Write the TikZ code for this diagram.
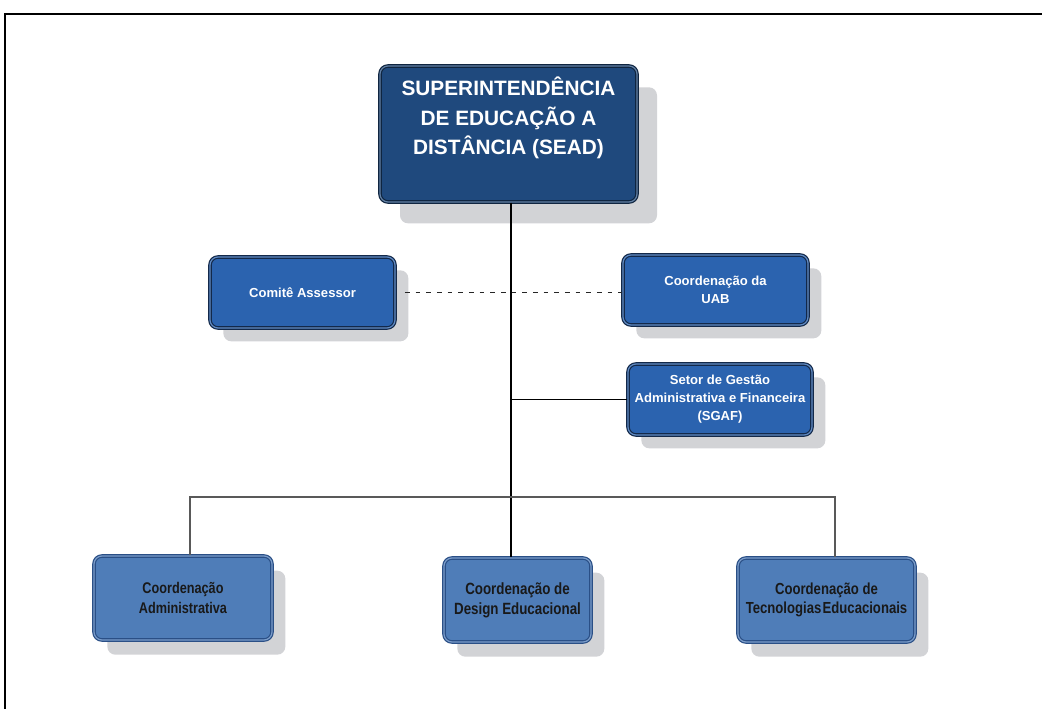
\documentclass[tikz,border=0pt]{standalone}
\usepackage{fontspec}
\setmainfont{Liberation Sans}
\newfontfamily\narrowsans[FakeStretch=0.82]{Liberation Sans}
\usetikzlibrary{shadows}

\definecolor{navyfill}{HTML}{1F497D}
\definecolor{navyedge}{HTML}{0F2540}
\definecolor{midfill}{HTML}{2B63AF}
\definecolor{midedge}{HTML}{13294A}
\definecolor{lightfill}{HTML}{4F7DB8}
\definecolor{lightedge}{HTML}{2A4F86}
\definecolor{shadowgray}{HTML}{D2D3D6}

\tikzset{
  orgbox/.style={rectangle, rounded corners=6pt, inner sep=0pt, align=center,
    font=\bfseries, line width=0.9pt, double distance=0.9pt},
  topbox/.style={orgbox, fill=navyfill, draw=navyedge, double=navyfill!70!white,
    general shadow={fill=shadowgray, shadow xshift=15pt, shadow yshift=-16pt}},
  midbox/.style={orgbox, fill=midfill, draw=midedge, double=midfill!75!white,
    text=white, font=\bfseries\fontsize{9.8}{13.5}\selectfont,
    general shadow={fill=shadowgray, shadow xshift=10pt, shadow yshift=-10pt}},
  lowbox/.style={orgbox, fill=lightfill, draw=lightedge, double=lightfill!75!white,
    text=black!90,
    general shadow={fill=shadowgray, shadow xshift=10pt, shadow yshift=-11pt}},
  link/.style={draw=black, line width=0.8pt},
  buslink/.style={draw=black!65, line width=1.2pt},
  dotlink/.style={draw=black!85, line width=1pt, dash pattern=on 3.5pt off 4.5pt}
}

\begin{document}
\begin{tikzpicture}[x=0.75pt, y=-0.75pt]
\useasboundingbox (0,0) rectangle (1042,709);

% outer frame (top and left edges)
\draw[line width=1.6pt, black] (5,709) -- (5,14) -- (1042,14);

% boxes
\node[topbox, minimum width=192.75pt, minimum height=102pt] (sead) at (508.5,134) {};
\node[text=white, align=center, font=\bfseries\fontsize{15.6}{22}\selectfont] (seadtext) at (508.5,118)
  {SUPERINTENDÊNCIA\\DE EDUCAÇÃO A\\DISTÂNCIA (SEAD)};

\node[midbox, minimum width=138.75pt, minimum height=53.25pt] (comite) at (302.5,292.5) {Comitê Assessor};
\node[midbox, minimum width=138.75pt, minimum height=52.5pt] (uab) at (715.5,290) {Coordenação da\\UAB};
\node[midbox, minimum width=138pt, minimum height=53.25pt] (sgaf) at (720,399.5)
  {Setor de Gestão\\Administrativa e Financeira\\(SGAF)};

\node[lowbox, minimum width=133.5pt, minimum height=63pt, font=\narrowsans\bfseries\fontsize{11.6}{14.5}\selectfont]
  (admin) at (183,598) {Coordenação\\Administrativa};
\node[lowbox, minimum width=110.25pt, minimum height=63pt, font=\narrowsans\bfseries\fontsize{12.2}{15}\selectfont]
  (design) at (517.5,600) {Coordenação de\\Design Educacional};
\node[lowbox, minimum width=132.75pt, minimum height=63pt, font=\narrowsans\bfseries\fontsize{12}{14.5}\selectfont]
  (tecno) at (826.5,600) {Coordenação de\\Tecnologias\kern1pt Educacionais};

% connectors
\coordinate (trunk) at (511,0);
\coordinate (busL) at (190,497);
\coordinate (busR) at (835,497);

\draw[link] (sead.south -| trunk) -- (design.north -| trunk);
\draw[link] (trunk |- sgaf.west) -- (sgaf.west);
\draw[dotlink] ([xshift=7pt]comite.east) -- (comite.east -| uab.west);
\draw[buslink] (admin.north -| busL) -- (busL) -- (busR) -- (tecno.north -| busR);
\end{tikzpicture}
\end{document}
